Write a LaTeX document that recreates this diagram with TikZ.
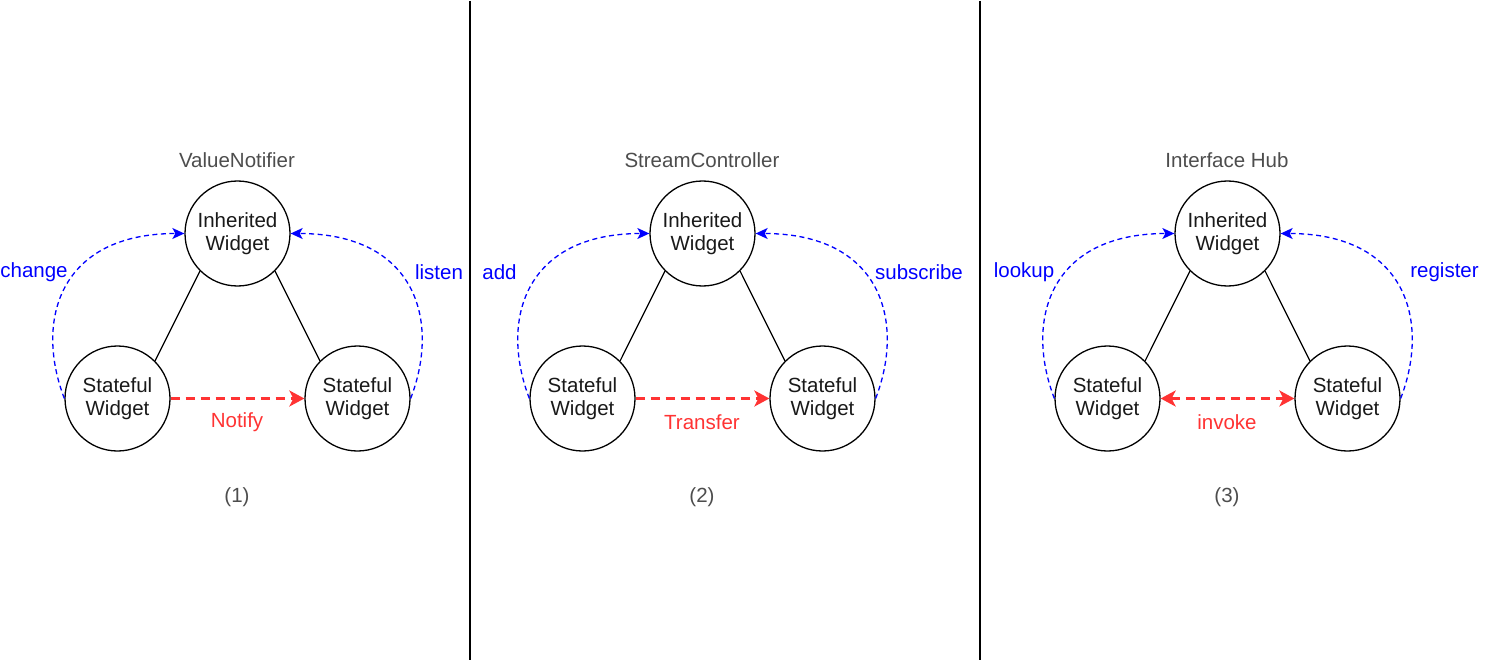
\documentclass[tikz,border=0pt]{standalone}
\usepackage{fontspec}
\setmainfont{Liberation Sans}
\usetikzlibrary{arrows.meta}
\definecolor{cblue}{HTML}{0000FF}
\definecolor{cred}{HTML}{FF3333}
\definecolor{cgrey}{HTML}{4D4D4D}
\tikzset{
  every picture/.style={font=\fontsize{20.5}{23.5}\selectfont, line width=1.3pt, x=1pt, y=-1pt},
  widget/.style={circle, draw=black, minimum size=105pt, inner sep=0pt, align=center, text=black!90},
  link/.style={draw=black, line width=1.2pt},
  flow/.style={draw=cblue, line width=1.3pt, dash pattern=on 5pt off 3.5pt, -{Stealth[length=12pt, width=11pt, inset=3pt]}},
  msg/.style={draw=cred, line width=2.6pt, dash pattern=on 9pt off 6pt},
  oneway/.style={-{Stealth[length=15pt, width=16pt, inset=4pt]}},
  twoway/.style={{Stealth[length=15pt, width=16pt, inset=4pt]}-{Stealth[length=15pt, width=16pt, inset=4pt]}},
  title/.style={text=cgrey},
  flowlabel/.style={text=cblue},
  msglabel/.style={text=cred},
}

\begin{document}
\begin{tikzpicture}
  \useasboundingbox (0,0) rectangle (1491,663);
  % panel separators
  \draw[line width=1.5pt] (470,1) -- (470,660);
  \draw[line width=1.5pt] (980,1) -- (980,660);
  \foreach \dx/\name/\ltxt/\lx/\rtxt/\rx/\mtxt/\tip [count=\i] in
    {0/ValueNotifier/change/34/listen/439/Notify/oneway,
     465/StreamController/add/499.5/subscribe/919/Transfer/oneway,
     990/Interface Hub/lookup/1024/register/1444.5/invoke/twoway}
  {
    \node[title] (title\i) at (237+\dx,160) {\name};
    \node[widget] (inh\i) at (237.5+\dx,233.5) {Inherited\\Widget};
    \node[widget] (sl\i) at (117.5+\dx,398.5) {Stateful\\Widget};
    \node[widget] (sr\i) at (357.5+\dx,398.5) {Stateful\\Widget};
    \draw[link] (inh\i.-135) -- (sl\i.45);
    \draw[link] (inh\i.-45) -- (sr\i.135);
    \draw[flow] (sl\i.west) .. controls +(-30,-78) and +(-125,0) .. (inh\i.west);
    \draw[flow] (sr\i.east) .. controls +(30,-78) and +(125,0) .. (inh\i.east);
    \draw[msg, \tip] (sl\i.east) -- (sr\i.west);
    \node[flowlabel] (lleft\i) at (\lx,272) {\ltxt};
    \node[flowlabel] (lright\i) at (\rx,272) {\rtxt};
    \node[msglabel] (lmsg\i) at (237+\dx,422) {\mtxt};
    \node[title] (num\i) at (237+\dx,497) {(\i)};
  }
\end{tikzpicture}
\end{document}
